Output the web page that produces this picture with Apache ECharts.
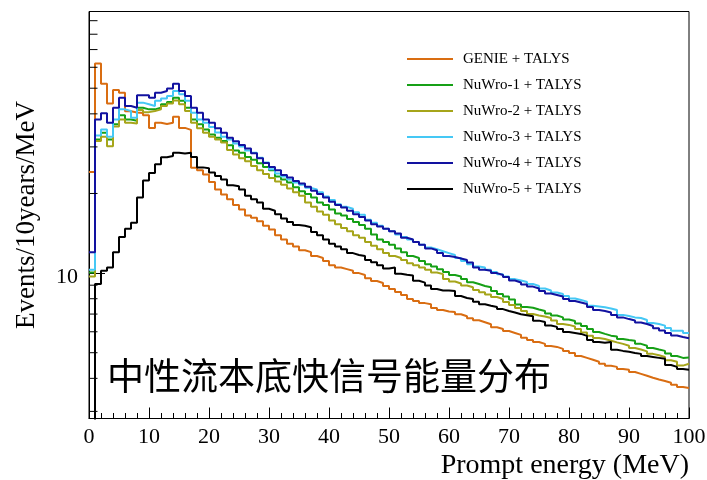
<!DOCTYPE html>
<html><head><meta charset="utf-8">
<script src="https://cdn.jsdelivr.net/npm/echarts@6/dist/echarts.min.js"></script>
<style>html,body{margin:0;padding:0;background:#fff}#c{width:707px;height:480px}</style>
</head><body><div id="c"></div>
<script>
const seriesNames = ['GENIE + TALYS','NuWro-1 + TALYS','NuWro-2 + TALYS','NuWro-3 + TALYS','NuWro-4 + TALYS','NuWro-5 + TALYS'];
const seriesColors = ['#d96d12','#16a016','#a6a51a','#45c8f5','#1212a0','#000000'];
const binEdges = Array.from({length: 101}, (_, i) => i); // 1 MeV bins, 0..100 MeV

const genie = [24.1,62.0,52.0,43.8,49.2,48.1,40.9,40.5,40.3,39.5,
  35.4,37.0,36.6,37.0,39.0,35.4,34.8,25.0,24.5,23.6,
  22.1,20.7,19.8,19.0,18.1,17.4,16.5,16.2,15.7,15.1,
  14.6,13.9,13.4,12.9,12.6,12.2,12.0,11.6,11.4,11.1,
  10.7,10.5,10.35,10.2,10.0,9.83,9.57,9.33,9.17,8.94,
  8.70,8.48,8.26,7.98,7.84,7.70,7.63,7.38,7.25,7.16,
  7.12,6.99,6.87,6.75,6.63,6.52,6.41,6.24,6.15,6.04,
  5.94,5.84,5.69,5.59,5.49,5.40,5.30,5.26,5.17,5.08,
  4.99,4.86,4.78,4.70,4.62,4.54,4.46,4.42,4.34,4.31,
  4.23,4.16,4.09,4.02,3.96,3.91,3.85,3.78,3.71,3.68];
const nuwro1 = [10.05,32.0,33.9,32.0,36.5,39.5,38.1,37.7,42.2,41.6,
  41.6,42.2,43.5,44.3,46.0,44.8,42.2,38.1,36.5,34.9,
  33.4,32.5,31.6,30.4,29.1,28.5,27.5,26.8,26.0,25.2,
  24.5,23.2,22.6,22.0,21.1,20.4,19.9,19.3,18.5,18.1,
  17.4,16.8,16.5,16.0,15.6,15.2,14.7,14.0,13.4,13.1,
  12.8,12.4,12.0,11.6,11.4,11.1,10.8,10.6,10.35,10.1,
  9.83,9.70,9.49,9.23,9.09,8.94,8.84,8.55,8.34,8.15,
  7.95,7.60,7.44,7.40,7.28,7.19,7.04,6.91,6.80,6.68,
  6.59,6.45,6.31,6.15,5.99,5.89,5.80,5.76,5.63,5.58,
  5.55,5.40,5.31,5.21,5.14,5.08,4.97,4.86,4.78,4.80];
const nuwro2 = [9.7,31.6,32.8,30.2,35.8,38.1,37.0,36.8,41.4,40.6,
  41.0,41.6,42.8,43.8,44.9,43.5,41.0,37.0,35.3,33.9,
  32.8,32.0,31.2,29.2,28.1,27.2,26.5,25.4,24.5,23.7,
  22.9,22.2,21.6,20.9,20.2,19.6,18.5,17.8,17.1,16.6,
  15.8,15.3,14.8,14.4,13.9,13.6,13.1,12.7,12.3,11.9,
  11.6,11.4,11.2,10.9,10.7,10.5,10.3,10.05,9.91,9.49,
  9.29,9.13,8.97,8.84,8.63,8.46,8.30,8.12,7.98,7.77,
  7.57,7.38,7.19,7.00,6.91,6.85,6.76,6.62,6.42,6.37,
  6.28,6.15,5.96,5.80,5.68,5.63,5.55,5.47,5.40,5.31,
  5.21,5.14,5.06,4.95,4.89,4.82,4.68,4.62,4.47,4.54];
const nuwro3 = [10.3,33.1,34.9,32.8,38.1,41.6,41.0,38.7,44.1,43.5,
  42.8,44.8,45.7,46.7,48.8,47.4,44.8,40.4,38.1,37.0,
  35.7,34.0,32.8,32.0,30.9,30.1,29.1,28.5,27.3,26.2,
  24.7,23.8,23.2,22.6,22.0,21.6,21.0,20.7,20.2,19.5,
  18.9,18.2,17.8,17.5,17.0,16.6,15.9,15.5,15.1,14.7,
  14.4,14.0,13.7,13.4,13.1,12.8,12.5,12.3,12.1,11.9,
  11.7,11.4,11.1,10.8,10.6,10.5,10.3,10.1,9.91,9.70,
  9.49,9.37,9.25,9.09,8.94,8.74,8.59,8.44,8.34,8.19,
  8.02,7.91,7.80,7.53,7.48,7.43,7.35,7.25,6.95,6.88,
  6.80,6.76,6.65,6.48,6.42,6.33,6.20,6.06,6.06,5.94];
const nuwro4 = [12.0,38.1,40.2,37.0,42.2,46.0,42.8,42.2,47.0,47.0,
  46.0,48.1,48.8,49.9,52.0,48.8,46.7,42.2,40.4,38.1,
  37.0,35.3,33.9,32.5,31.5,30.5,29.6,28.4,27.2,26.1,
  25.2,24.5,23.5,23.0,22.3,21.8,21.2,20.5,19.9,19.3,
  18.6,18.1,17.7,17.2,16.7,16.3,15.8,15.3,15.0,14.7,
  14.4,14.1,13.6,13.4,13.1,12.8,12.4,12.2,11.9,11.6,
  11.5,11.35,11.2,10.97,10.5,10.3,10.2,10.0,9.83,9.66,
  9.37,9.21,9.05,8.89,8.74,8.55,8.37,8.26,8.15,7.98,
  7.84,7.74,7.64,7.44,7.25,7.19,7.10,6.95,6.80,6.70,
  6.62,6.50,6.42,6.31,6.18,6.07,5.94,5.81,5.73,5.67];
const nuwro5 = [2.0,9.1,10.2,10.5,12.0,13.7,14.7,15.5,19.3,22.4,
  23.9,25.8,27.4,27.7,28.5,28.3,28.5,27.5,25.1,24.9,
  24.0,23.3,22.6,21.5,21.3,20.7,19.6,19.0,18.5,17.5,
  17.2,16.7,16.1,15.6,15.2,15.1,14.9,14.3,13.9,13.4,
  12.9,12.6,12.3,11.9,11.7,11.6,11.2,11.0,10.7,10.4,
  10.5,9.95,9.85,9.8,9.35,9.2,8.97,8.7,8.6,8.6,
  8.55,8.19,8.05,7.98,7.80,7.63,7.53,7.44,7.31,7.19,
  7.10,6.99,6.93,6.87,6.61,6.53,6.34,6.26,6.15,5.99,
  5.94,5.89,5.79,5.59,5.49,5.45,5.49,5.13,5.08,5.04,
  4.99,4.95,4.86,4.82,4.78,4.74,4.49,4.42,4.34,4.31];

const xTickLabels = [0,10,20,30,40,50,60,70,80,90,100];
const yMajorTicks = [10];
const yMinorTicks = [3,4,5,6,7,8,9,20,30,40,50,60,70,80,90];
const plotTitle = '中性流本底快信号能量分布';
const xTitle = 'Prompt energy (MeV)';
const yTitle = 'Events/10years/MeV';

const allValues = [genie, nuwro1, nuwro2, nuwro3, nuwro4, nuwro5];
const serif = 'Liberation Serif';

function histData(vals) {
  const d = vals.map((v, i) => [binEdges[i], v]);
  d.push([binEdges[vals.length], vals[vals.length - 1]]);
  return d;
}

const chart = echarts.init(document.getElementById('c'), null, {renderer: 'canvas'});
const series = allValues.map((vals, k) => ({
  name: seriesNames[k],
  type: 'line',
  step: 'end',
  symbol: 'none',
  showSymbol: false,
  clip: true,
  color: seriesColors[k],
  lineStyle: {color: seriesColors[k], width: 2},
  data: histData(vals),
  z: 3 + k
}));
series.push({
  type: 'custom',
  silent: true,
  clip: true,
  z: 10,
  data: yMinorTicks.map(v => [0, v]),
  renderItem: function (params, api) {
    const p = api.coord([api.value(0), api.value(1)]);
    return {type: 'line', shape: {x1: p[0], y1: p[1], x2: p[0] + 8.5, y2: p[1]},
            style: {stroke: '#000', lineWidth: 1}};
  }
});

chart.setOption({
  animation: false,
  backgroundColor: '#fff',
  title: {
    text: plotTitle, left: 107, top: 357, padding: 0,
    textStyle: {fontFamily: 'Noto Sans CJK SC', fontSize: 37, fontWeight: 'normal', color: '#000'}
  },
  legend: {
    data: seriesNames,
    orient: 'vertical',
    left: 407, top: 46, padding: 0,
    itemGap: 0,
    itemWidth: 51, itemHeight: 2,
    icon: 'path://M0,0 L46,0 L46,2 L0,2 Z M51,0 L51,0',
    textStyle: {fontFamily: serif, fontSize: 15, color: '#000', lineHeight: 26, height: 26},
    selectedMode: false
  },
  grid: {left: 89, right: 18, top: 11.5, bottom: 61.5, show: true, borderColor: '#000', borderWidth: 1,
         containLabel: false, outerBoundsMode: 'none'},
  xAxis: {
    type: 'value', min: 0, max: 100, interval: 10,
    name: xTitle, nameLocation: 'end', nameGap: 0, nameMoveOverlap: false,
    nameTextStyle: {fontFamily: serif, fontSize: 28, color: '#000', align: 'right', verticalAlign: 'top', padding: [33, 0, 0, 0]},
    axisLine: {lineStyle: {color: '#000', width: 1}},
    axisTick: {inside: true, length: 11, lineStyle: {color: '#000'}},
    minorTick: {show: true, splitNumber: 5, length: 5.5, lineStyle: {color: '#000'}},
    axisLabel: {fontFamily: serif, fontSize: 22, color: '#000', margin: 8,
      formatter: v => (xTickLabels.indexOf(v) >= 0 ? String(v) : '')},
    splitLine: {show: false}
  },
  yAxis: {
    type: 'log', logBase: 10, min: 2.82, max: 97.5,
    name: yTitle, nameLocation: 'middle', nameGap: 49, nameMoveOverlap: false,
    nameTextStyle: {fontFamily: serif, fontSize: 27, color: '#000'},
    axisLine: {lineStyle: {color: '#000', width: 1}},
    axisTick: {inside: true, length: 16, lineStyle: {color: '#000'}},
    axisLabel: {fontFamily: serif, fontSize: 22, color: '#000', margin: 11,
      verticalAlign: 'top', lineHeight: 8,
      formatter: v => (yMajorTicks.indexOf(Math.round(v * 1000) / 1000) >= 0 ? String(Math.round(v)) : '')},
    splitLine: {show: false}
  },
  series: series
});
</script></body></html>
